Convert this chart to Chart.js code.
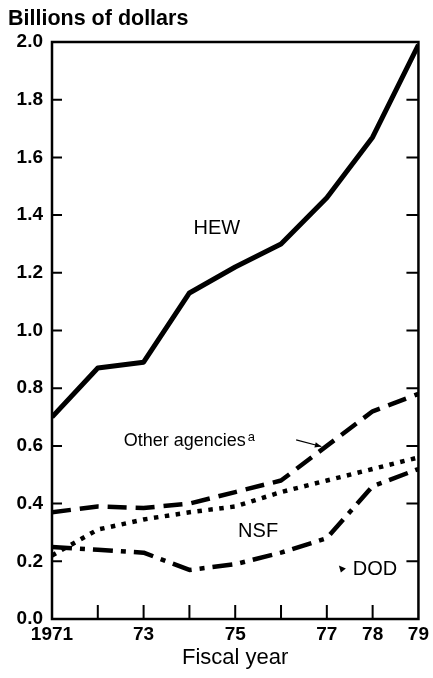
<!DOCTYPE html>
<html>
<head>
<meta charset="utf-8">
<script src="https://cdn.jsdelivr.net/npm/chart.js@4/dist/chart.umd.min.js"></script>
<style>
html,body{margin:0;padding:0;background:#fff;}
#wrap{width:433px;height:678px;}
</style>
</head>
<body>
<div id="wrap"><canvas id="c" width="433" height="678"></canvas></div>
<script>
// ---- data ----
const years = [1971, 1972, 1973, 1974, 1975, 1976, 1977, 1978, 1979];
const hew   = [0.70, 0.87, 0.89, 1.13, 1.22, 1.30, 1.46, 1.67, 1.99];
const other = [0.37, 0.39, 0.385, 0.40, 0.44, 0.48, 0.60, 0.72, 0.78];
const nsf   = [0.22, 0.31, 0.345, 0.37, 0.39, 0.44, 0.48, 0.52, 0.56];
const dod   = [0.25, 0.24, 0.23, 0.17, 0.19, 0.23, 0.28, 0.46, 0.52];
const xTickValues = [1971, 1973, 1975, 1977, 1978, 1979];
const xTickLabels = ['1971', '73', '75', '77', '78', '79'];
const yTickValues = [0, 0.2, 0.4, 0.6, 0.8, 1.0, 1.2, 1.4, 1.6, 1.8, 2.0];
const yTickLabels = ['0.0', '0.2', '0.4', '0.6', '0.8', '1.0', '1.2', '1.4', '1.6', '1.8', '2.0'];

const FONT = '"Liberation Sans", Arial, Helvetica, sans-serif';

function pts(vals) { return years.map((yr, i) => ({ x: yr, y: vals[i] })); }

// in-plot labels, anchored in data coordinates
const notes = [
  { text: 'HEW', x: 1974.6, y: 1.355, size: 20 },
  { text: 'Other agencies', x: 1973.9, y: 0.618, size: 18, sup: 'a' },
  { text: 'NSF', x: 1975.5, y: 0.302, size: 20 },
  { text: 'DOD', x: 1978.05, y: 0.170, size: 20 }
];

const framePlugin = {
  id: 'frame',
  afterDraw(chart) {
    const { ctx, chartArea: a, scales: { x, y } } = chart;
    ctx.save();
    ctx.strokeStyle = '#000';
    ctx.fillStyle = '#000';
    // box
    ctx.lineWidth = 2.5;
    ctx.strokeRect(a.left, a.top, a.right - a.left, a.bottom - a.top);
    // inward ticks
    ctx.lineWidth = 2;
    ctx.beginPath();
    years.forEach(v => {
      if (v > years[0] && v < years[years.length - 1]) {
        const px = x.getPixelForValue(v);
        ctx.moveTo(px, a.bottom); ctx.lineTo(px, a.bottom - 14);
      }
    });
    yTickValues.forEach(v => {
      if (v > 0 && v < 2.0) {
        const py = y.getPixelForValue(v);
        ctx.moveTo(a.left, py); ctx.lineTo(a.left + 10, py);
        ctx.moveTo(a.right, py); ctx.lineTo(a.right - 12, py);
      }
    });
    ctx.stroke();

    // unit title
    ctx.font = 'bold 21.5px ' + FONT;
    ctx.textAlign = 'left';
    ctx.textBaseline = 'alphabetic';
    ctx.fillText('Billions of dollars', 8, 25);

    // in-plot labels
    ctx.textBaseline = 'middle';
    notes.forEach(n => {
      ctx.font = n.size + 'px ' + FONT;
      ctx.textAlign = 'center';
      const px = x.getPixelForValue(n.x), py = y.getPixelForValue(n.y);
      ctx.fillText(n.text, px, py);
      if (n.sup) {
        const w = ctx.measureText(n.text).width;
        ctx.font = '13px ' + FONT;
        ctx.textAlign = 'left';
        ctx.fillText(n.sup, px + w / 2 + 2, py - 3);
      }
    });

    // pointer from "Other agencies" to its line
    const x0 = x.getPixelForValue(1976.33), y0 = y.getPixelForValue(0.621);
    const x1 = x.getPixelForValue(1976.88), y1 = y.getPixelForValue(0.598);
    ctx.lineWidth = 1.2;
    ctx.beginPath(); ctx.moveTo(x0, y0); ctx.lineTo(x1, y1); ctx.stroke();
    const ang = Math.atan2(y1 - y0, x1 - x0);
    ctx.beginPath();
    ctx.moveTo(x1, y1);
    ctx.lineTo(x1 - 7 * Math.cos(ang - 0.4), y1 - 7 * Math.sin(ang - 0.4));
    ctx.lineTo(x1 - 7 * Math.cos(ang + 0.4), y1 - 7 * Math.sin(ang + 0.4));
    ctx.closePath(); ctx.fill();

    // small pointer before "DOD"
    const dx = x.getPixelForValue(1977.35), dy = y.getPixelForValue(0.172);
    ctx.beginPath();
    ctx.moveTo(dx - 4, dy - 4); ctx.lineTo(dx + 3, dy - 1); ctx.lineTo(dx - 2, dy + 3);
    ctx.closePath(); ctx.fill();
    ctx.restore();
  }
};

const ds = (label, vals, width, dash) => ({
  label, data: pts(vals), borderColor: '#000', backgroundColor: '#000',
  borderWidth: width, borderDash: dash, pointRadius: 0, tension: 0,
  borderCapStyle: 'butt', borderJoinStyle: 'round', fill: false
});

new Chart(document.getElementById('c'), {
  type: 'line',
  data: {
    datasets: [
      ds('HEW', hew, 5, []),
      ds('Other agencies', other, 4.5, [19, 9]),
      ds('NSF', nsf, 4.5, [4.5, 6.5]),
      ds('DOD', dod, 4.5, [20, 8, 5, 8])
    ]
  },
  plugins: [framePlugin],
  options: {
    responsive: false,
    devicePixelRatio: 1,
    animation: false,
    layout: { padding: { left: 8, right: 11, top: 42, bottom: 0 } },
    plugins: { legend: { display: false }, tooltip: { enabled: false }, title: { display: false } },
    scales: {
      x: {
        type: 'linear', min: 1971, max: 1979,
        afterBuildTicks(scale) { scale.ticks = xTickValues.map(v => ({ value: v })); },
        afterFit(scale) { scale.height = 59; },
        grid: { display: false, drawTicks: false },
        border: { display: false },
        ticks: {
          autoSkip: false, maxRotation: 0, padding: 4, color: '#000',
          font: { family: FONT, size: 19, weight: 'bold' },
          callback: (v) => { const i = xTickValues.indexOf(v); return i >= 0 ? xTickLabels[i] : ''; }
        },
        title: {
          display: true, text: 'Fiscal year', color: '#000',
          font: { family: FONT, size: 22 }, padding: { top: 0, bottom: 7 }
        }
      },
      y: {
        min: 0, max: 2.0,
        afterBuildTicks(scale) { scale.ticks = yTickValues.map(v => ({ value: v })); },
        afterFit(scale) { scale.width = 44; },
        grid: { display: false, drawTicks: false },
        border: { display: false },
        ticks: {
          padding: 9, color: '#000',
          font: { family: FONT, size: 19, weight: 'bold' },
          callback: (v) => { const i = yTickValues.findIndex(t => Math.abs(t - v) < 1e-9); return i >= 0 ? yTickLabels[i] : ''; }
        }
      }
    }
  }
});
</script>
</body>
</html>
